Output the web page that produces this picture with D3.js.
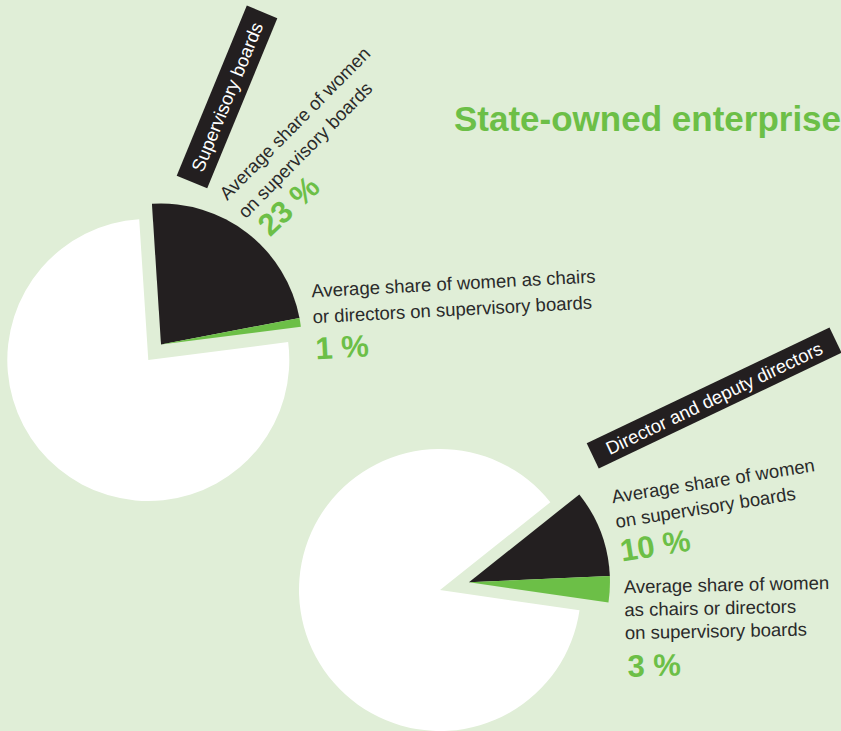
<!DOCTYPE html>
<html>
<head>
<meta charset="utf-8">
<script src="https://cdn.jsdelivr.net/npm/d3@7"></script>
<style>
  html, body { margin: 0; padding: 0; background: #e0eed7; overflow: hidden; }
  svg { display: block; }
  text { font-family: "Liberation Sans", Arial, Helvetica, sans-serif; }
</style>
</head>
<body>
<svg id="chart" width="841" height="731"></svg>
<script>
// ---- data ----
const sliceCategories = ["Women on supervisory boards", "Women as chairs or directors", "Other"];
const supervisoryValues = [23, 1, 76];
const directorValues = [10, 3, 87];
const panelTitles = ["Supervisory boards", "Director and deputy directors"];
const chartTitle = "State-owned enterprises";
const supervisoryLabels = [
  ["Average share of women", "on supervisory boards"],
  ["Average share of women as chairs", "or directors on supervisory boards"]
];
const directorLabels = [
  ["Average share of women", "on supervisory boards"],
  ["Average share of women", "as chairs or directors", "on supervisory boards"]
];

// ---- styles ----
const colors = d3.scaleOrdinal().domain(sliceCategories).range(["#231f20", "#6cbf47", "#ffffff"]);
const green = "#6cbf47";
const textDark = "#2a2a2a";
const svg = d3.select("#chart");

svg.append("rect").attr("width", 841).attr("height", 731).attr("fill", "#e0eed7");

// ---- pies ----
function drawPie(values, cx, cy, r, startDeg, explode) {
  const start = startDeg * Math.PI / 180;
  const pieGen = d3.pie().sort(null).value(d => d.v)
    .startAngle(start).endAngle(start + 2 * Math.PI);
  const data = pieGen(values.map((v, i) => ({ v, cat: sliceCategories[i] })));
  const arc = d3.arc().innerRadius(0).outerRadius(r);
  const mid = (data[0].startAngle + data[1].endAngle) / 2;
  const ox = Math.sin(mid) * explode, oy = -Math.cos(mid) * explode;
  const g = svg.append("g").attr("transform", `translate(${cx},${cy})`);
  g.selectAll("path").data(data).join("path")
    .attr("d", arc)
    .attr("fill", d => colors(d.data.cat))
    .attr("transform", (d, i) => i < 2 ? `translate(${ox},${oy})` : null);
}
drawPie(supervisoryValues, 148.3, 360, 141, -3.7, 20);
drawPie(directorValues, 440, 590, 141, 51.5, 30);

// ---- title ----
svg.append("text").attr("x", 454).attr("y", 131)
  .attr("font-size", 35).attr("font-weight", "bold").attr("fill", green)
  .text(chartTitle);

// ---- panel boxes ----
function drawBox(label, x, y, angle, w, h, fs) {
  const g = svg.append("g").attr("transform", `translate(${x},${y}) rotate(${angle})`);
  g.append("rect").attr("width", w).attr("height", h).attr("fill", "#231f20");
  g.append("text").attr("x", w / 2).attr("y", h / 2).attr("dy", "0.36em")
    .attr("text-anchor", "middle").attr("font-size", fs).attr("fill", "#ffffff")
    .text(label);
}
drawBox(panelTitles[0], 176.7, 175.7, -67.6, 184, 33, 18.5);
drawBox(panelTitles[1], 586.7, 443.3, -25.5, 269, 28, 18.5);

// ---- annotations ----
function drawLabel(lines, value, x, y, angle, spacing, numY, numX, numRot) {
  const g = svg.append("g").attr("transform", `translate(${x},${y}) rotate(${angle})`);
  lines.forEach((ln, i) => {
    g.append("text").attr("x", 0).attr("y", i * spacing)
      .attr("font-size", 18.5).attr("fill", textDark).text(ln);
  });
  g.append("text")
    .attr("transform", `translate(${numX},${numY}) rotate(${numRot || 0})`)
    .attr("font-size", 31).attr("font-weight", "bold").attr("fill", green)
    .text(value + " %");
}
drawLabel(supervisoryLabels[0], supervisoryValues[0], 227.3, 201, -45.4, 26, 56, 4, 2.5);
drawLabel(supervisoryLabels[1], supervisoryValues[1], 311.7, 297.3, -3, 26, 62, 1);
drawLabel(directorLabels[0], directorValues[0], 612.7, 503.3, -9, 25, 59, 0);
drawLabel(directorLabels[1], directorValues[1], 624, 593.3, -1.2, 23, 83.4, 2);
</script>
</body>
</html>
